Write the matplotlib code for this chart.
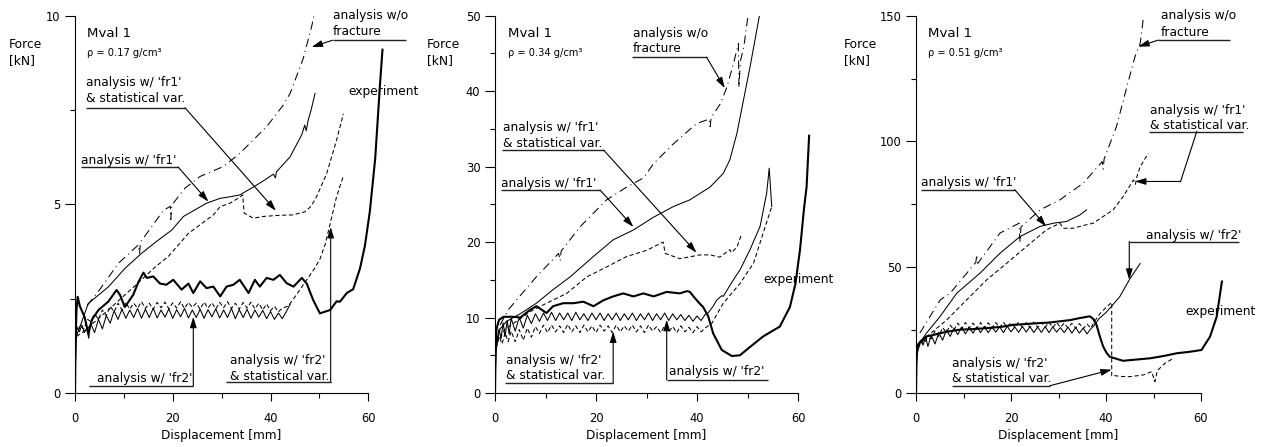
import matplotlib
matplotlib.use("Agg")
import matplotlib.pyplot as plt

plt.rcParams['font.family'] = ['DejaVu Sans']

# shared sampling grid for the noisy 'fr2' plateaus (mm)
noise_x = [3.2, 4.0, 4.8, 5.6, 6.4, 7.2, 8.0, 8.8, 9.6, 10.4, 11.2, 12.0, 12.8, 13.6,
           14.4, 15.2, 16.0, 16.8, 17.6, 18.4, 19.2, 20.0, 20.8, 21.6, 22.4, 23.2,
           24.0, 24.8, 25.6, 26.4, 27.2, 28.0, 28.8, 29.6, 30.4, 31.2, 32.0, 32.8,
           33.6, 34.4, 35.2, 36.0, 36.8, 37.6, 38.4, 39.2, 40.0, 40.8, 41.6, 42.4]

# ---------------- rho = 0.17 ----------------
p1_wo_x = [2.5, 5.1, 8.9, 13.0, 13.2, 13.4, 18.1, 19.5, 19.6, 19.8, 22.5, 25.6, 30.3,
           33.7, 36.5, 39.2, 42.6, 44.0, 46.7, 48.4, 49.4]
p1_wo_y = [2.32, 2.75, 3.44, 3.93, 3.7, 4.0, 4.84, 4.95, 4.6, 4.98, 5.43, 5.74, 6.0,
           6.35, 6.71, 7.06, 7.63, 7.94, 8.87, 9.71, 10.3]
p1_fr1_x = [0.0, 0.2, 1.0, 2.7, 6.8, 10.2, 13.6, 16.5, 19.8, 22.2, 26.9, 29.7, 31.7,
            33.7, 36.5, 38.5, 40.6, 41.0, 41.2, 44.0, 46.4, 47.0, 47.3, 47.7, 48.3, 49.1]
p1_fr1_y = [0.0, 1.5, 1.75, 2.37, 2.81, 3.3, 3.7, 4.0, 4.32, 4.68, 5.03, 5.16, 5.2,
            5.25, 5.46, 5.62, 5.8, 5.7, 5.86, 6.26, 6.85, 7.1, 6.95, 7.23, 7.5, 7.94]
p1_fr1s_x = [0.3, 1.5, 3.7, 6.8, 10.2, 13.6, 16.5, 19.1, 23.2, 26.0, 28.3, 29.7, 31.7,
             33.7, 34.3, 34.6, 36.5, 38.5, 41.9, 44.5, 47.0, 48.3, 49.4, 51.5, 53.5, 54.9]
p1_fr1s_y = [1.5, 1.6, 1.85, 2.2, 2.6, 3.0, 3.35, 3.62, 4.23, 4.5, 4.72, 4.94, 5.03,
             5.19, 5.25, 4.77, 4.63, 4.68, 4.71, 4.72, 4.8, 4.95, 5.2, 5.82, 6.7, 7.4]
p1_fr2_head_x = [0.0, 0.15, 0.4, 0.9, 1.4, 1.9, 2.4, 2.8]
p1_fr2_head_y = [0.0, 1.3, 1.75, 1.62, 1.8, 1.6, 1.72, 1.45]
p1_fr2_noise = [1.85, 1.6, 1.95, 1.7, 2.05, 1.85, 2.18, 1.95, 2.22, 1.98, 2.2, 2.0, 2.24,
                1.98, 2.22, 2.0, 2.25, 1.99, 2.2, 2.01, 2.23, 1.98, 2.21, 2.02, 2.24, 1.99,
                2.2, 2.0, 2.22, 1.98, 2.21, 2.02, 2.23, 1.99, 2.2, 2.0, 2.24, 1.97, 2.21,
                2.0, 2.22, 1.98, 2.2, 2.01, 2.19, 1.97, 2.16, 1.95, 2.12, 1.97]
p1_fr2_tail_x = [43.2, 44.0]
p1_fr2_tail_y = [2.15, 2.35]
p1_fr2s_head_x = [0.3, 1.0, 1.8, 2.6]
p1_fr2s_head_y = [1.5, 1.8, 1.7, 1.95]
p1_fr2s_noise = [1.9, 2.1, 1.95, 2.2, 2.05, 2.3, 2.15, 2.38, 2.2, 2.4, 2.22, 2.38, 2.25,
                 2.42, 2.24, 2.38, 2.22, 2.4, 2.26, 2.41, 2.23, 2.39, 2.25, 2.42, 2.24, 2.4,
                 2.27, 2.38, 2.22, 2.41, 2.25, 2.39, 2.23, 2.4, 2.26, 2.42, 2.24, 2.38,
                 2.22, 2.4, 2.25, 2.41, 2.23, 2.38, 2.2, 2.36, 2.18, 2.3, 2.15, 2.25]
p1_fr2s_tail_x = [43.6, 45.0, 47.4, 49.0, 50.1, 51.2, 52.2, 53.5, 54.9]
p1_fr2s_tail_y = [2.3, 2.55, 3.0, 3.3, 3.55, 3.95, 4.49, 5.2, 5.75]
p1_exp_x = [0.0, 0.1, 0.3, 0.55, 1.0, 2.0, 2.7, 3.5, 4.8, 6.8, 8.5, 9.2, 10.2, 11.9,
            13.0, 14.0, 14.7, 16.0, 17.4, 18.7, 20.1, 21.8, 23.2, 24.2, 25.6, 26.9, 28.3,
            29.7, 31.0, 32.4, 33.7, 35.5, 36.8, 37.8, 39.2, 40.6, 41.9, 43.3, 44.7, 46.4,
            47.4, 48.7, 50.1, 51.0, 52.2, 53.5, 54.2, 55.6, 56.9, 58.3, 59.3, 60.3, 61.4,
            62.4, 62.9]
p1_exp_y = [0.0, 1.2, 2.2, 2.55, 2.3, 2.0, 1.58, 1.95, 2.2, 2.42, 2.73, 2.6, 2.28, 2.6,
            2.95, 3.19, 3.05, 3.09, 2.9, 2.87, 3.0, 2.74, 2.9, 2.65, 2.96, 2.78, 2.82,
            2.56, 2.82, 2.87, 3.0, 2.65, 3.0, 2.82, 3.05, 3.0, 3.13, 2.91, 2.82, 3.05,
            2.9, 2.47, 2.11, 2.15, 2.2, 2.43, 2.42, 2.65, 2.75, 3.3, 3.9, 4.8, 6.2,
            8.2, 9.1]

# ---------------- rho = 0.34 ----------------
p2_wo_x = [1.0, 2.6, 5.5, 8.2, 12.6, 12.9, 13.1, 16.8, 22.1, 26.1, 29.4, 31.4, 35.3,
           39.9, 42.4, 42.6, 42.8, 44.6, 45.9, 47.2, 48.2, 48.3, 48.6, 49.3, 50.2]
p2_wo_y = [9.0, 11.0, 13.3, 15.4, 18.5, 17.5, 18.8, 22.0, 25.6, 27.3, 28.5, 30.4, 33.0,
           35.7, 36.3, 35.3, 36.5, 38.3, 40.5, 43.6, 46.3, 40.5, 44.0, 46.0, 50.5]
p2_fr1_x = [0.0, 0.2, 1.0, 2.3, 5.0, 8.2, 11.5, 14.9, 19.5, 23.4, 27.4, 31.4, 35.3,
            38.6, 42.6, 45.2, 46.5, 47.9, 50.5, 52.5]
p2_fr1_y = [0.0, 6.0, 8.5, 9.5, 10.5, 11.9, 13.7, 15.4, 18.1, 20.3, 21.6, 23.3, 24.7,
            25.6, 27.3, 29.1, 30.9, 34.4, 43.2, 50.5]
p2_fr1s_x = [0.3, 2.0, 4.3, 7.0, 10.2, 14.2, 18.2, 22.1, 26.1, 30.0, 33.3, 33.7, 36.6,
             40.6, 42.6, 44.5, 46.5, 46.8, 47.9, 48.8]
p2_fr1s_y = [6.5, 8.5, 9.5, 10.8, 11.9, 13.2, 15.4, 16.7, 18.1, 18.9, 20.0, 18.5, 17.8,
             18.3, 18.3, 18.0, 19.0, 18.6, 19.3, 21.0]
p2_fr2_head_x = [0.0, 0.15, 0.4, 0.8, 1.2, 1.6, 2.0, 2.4, 2.8]
p2_fr2_head_y = [0.0, 5.5, 7.0, 8.5, 7.2, 9.3, 7.5, 9.6, 7.8]
p2_fr2_noise = [9.9, 8.2, 10.0, 8.6, 10.3, 9.2, 10.5, 9.5, 10.6, 9.6, 10.7, 9.6, 10.6,
                9.7, 10.6, 9.6, 10.7, 9.7, 10.5, 9.6, 10.6, 9.7, 10.6, 9.6, 10.5, 9.7,
                10.6, 9.6, 10.5, 9.7, 10.6, 9.6, 10.5, 9.7, 10.6, 9.6, 10.5, 9.7, 10.6,
                9.6, 10.5, 9.7, 10.4, 9.6, 10.3, 9.5, 10.2, 9.6, 10.4]
p2_fr2_tail_x = [42.2, 43.2, 43.9, 44.9, 45.2, 47.2, 48.5, 50.5, 52.5, 53.8, 54.3, 54.8]
p2_fr2_tail_y = [10.6, 11.5, 12.3, 12.9, 12.8, 15.0, 16.3, 19.0, 22.1, 26.5, 29.8, 24.7]
p2_fr2s_head_x = [0.3, 0.8, 1.4, 2.0, 2.6]
p2_fr2s_head_y = [6.0, 7.5, 6.5, 8.0, 6.8]
p2_fr2s_noise = [8.2, 6.8, 8.4, 7.0, 8.6, 7.4, 8.8, 7.9, 9.0, 8.0, 9.0, 8.1, 8.9, 8.0,
                 9.1, 8.1, 8.9, 8.0, 9.0, 8.1, 8.9, 8.0, 9.0, 8.2, 8.9, 8.0, 9.0, 8.1,
                 8.9, 8.2, 9.0, 8.1, 8.9, 8.0, 9.0, 8.2, 8.8, 8.0, 8.9, 8.1, 8.8, 8.0,
                 8.9, 8.1, 8.7, 8.0, 8.8, 8.1, 8.6]
p2_fr2s_tail_x = [42.9, 45.2, 48.5, 51.2, 53.1, 54.8]
p2_fr2s_tail_y = [9.2, 11.9, 14.5, 17.2, 21.2, 24.7]
p2_exp_x = [0.0, 0.1, 0.3, 0.8, 1.7, 3.6, 5.0, 6.9, 8.2, 10.2, 11.5, 13.5, 15.5, 17.5,
            19.5, 21.5, 23.4, 25.4, 27.4, 29.4, 31.4, 34.0, 36.6, 38.0, 38.6, 39.3, 40.6,
            41.2, 42.2, 43.2, 44.9, 46.9, 48.5, 50.5, 53.1, 56.4, 58.4, 59.5, 60.4, 61.2,
            61.7, 62.2]
p2_exp_y = [0.0, 5.0, 8.5, 9.7, 10.1, 10.1, 10.0, 11.0, 11.5, 10.6, 11.5, 11.9, 11.9,
            12.1, 11.5, 12.3, 12.8, 13.2, 12.8, 13.2, 12.8, 13.4, 13.2, 13.5, 13.4, 12.8,
            11.8, 11.4, 10.2, 7.9, 5.7, 4.9, 5.0, 6.1, 7.5, 8.8, 11.4, 14.5, 19.0, 24.5,
            27.3, 34.1]

# ---------------- rho = 0.51 ----------------
p3_wo_x = [0.8, 5.1, 7.2, 12.6, 12.8, 13.0, 17.7, 21.7, 21.9, 22.1, 26.1, 30.3, 35.2,
           39.2, 39.4, 39.6, 42.2, 44.4, 46.1, 47.2, 47.9]
p3_wo_y = [23.8, 37.0, 39.7, 52.0, 55.0, 51.5, 63.6, 67.5, 60.0, 66.0, 72.8, 76.8, 83.4,
           92.0, 89.0, 93.0, 105.9, 121.8, 133.7, 139.0, 149.6]
p3_fr1_x = [0.0, 0.1, 1.0, 2.2, 5.1, 8.6, 13.5, 17.7, 21.9, 26.1, 28.9, 31.7, 34.5, 35.9]
p3_fr1_y = [0.0, 15.0, 20.5, 23.8, 30.5, 39.7, 47.7, 55.6, 62.2, 66.2, 67.5, 68.2, 70.8,
            72.8]
p3_fr1s_x = [0.3, 2.0, 6.5, 10.7, 14.9, 19.1, 23.3, 27.5, 30.3, 31.0, 33.1, 35.0, 37.3,
             41.5, 43.6, 45.8, 46.2, 46.5, 47.2, 48.9]
p3_fr1s_y = [18.0, 22.0, 29.1, 37.1, 45.0, 51.6, 58.3, 64.9, 67.5, 65.5, 65.5, 66.5,
             67.5, 72.8, 78.1, 84.7, 83.0, 86.0, 90.0, 95.3]
p3_fr2_head_x = [0.0, 0.15, 0.5, 1.0, 1.5, 2.0, 2.5]
p3_fr2_head_y = [0.0, 15.0, 19.5, 21.0, 19.0, 22.5, 18.5]
p3_fr2_noise = [23.0, 19.5, 24.0, 21.0, 25.0, 22.5, 25.8, 23.2, 26.2, 23.5, 26.0, 23.8,
                26.3, 24.0, 26.5, 24.0, 26.2, 24.2, 26.4, 24.0, 26.5, 24.3, 26.3, 24.1,
                26.5, 24.2, 26.4, 24.0, 26.2, 24.1, 26.4, 24.0, 26.3, 24.2, 26.0, 24.0,
                26.2, 23.8, 26.0, 23.8, 25.8, 23.5, 25.5]
p3_fr2_tail_x = [37.6, 38.5, 40.0, 40.8, 42.9, 45.1, 47.2]
p3_fr2_tail_y = [27.0, 29.5, 32.0, 33.7, 38.3, 45.6, 51.5]
p3_fr2s_head_x = [0.3, 0.9, 1.6, 2.4]
p3_fr2s_head_y = [18.0, 20.5, 19.5, 22.0]
p3_fr2s_noise = [21.5, 24.5, 22.5, 26.0, 24.0, 27.0, 25.0, 27.8, 25.5, 28.0, 25.8, 27.8,
                 25.6, 28.0, 25.8, 27.9, 25.9, 28.0, 26.0, 28.1, 26.2, 28.0, 26.1, 28.2,
                 26.2, 28.0, 26.0, 28.2, 26.1, 28.0, 26.2, 28.1, 26.0, 28.0, 26.1, 27.8,
                 25.9, 27.7, 25.8, 27.6, 25.6, 27.4, 25.8]
p3_fr2s_tail_x = [37.6, 38.7, 40.0, 41.2, 41.2, 41.5, 43.0, 45.1, 47.9, 49.6, 50.3, 50.8,
                  52.4, 54.2]
p3_fr2s_tail_y = [28.5, 31.5, 34.0, 36.0, 6.8, 7.0, 6.6, 6.5, 7.2, 8.5, 4.5, 8.9, 11.8,
                  13.8]
p3_exp_x = [0.0, 0.1, 0.3, 1.0, 2.2, 3.5, 5.1, 7.0, 9.3, 12.0, 14.9, 18.0, 20.5, 23.0,
            26.1, 28.0, 30.3, 32.5, 34.5, 36.6, 37.3, 38.0, 38.7, 39.4, 40.1, 40.8, 43.6,
            46.4, 49.3, 52.1, 54.9, 57.7, 60.1, 61.9, 63.3, 64.4]
p3_exp_y = [0.0, 12.0, 19.0, 20.5, 22.5, 23.0, 23.8, 24.5, 25.2, 25.4, 25.8, 26.3, 27.1,
            27.4, 27.8, 28.0, 28.5, 29.0, 29.8, 30.5, 29.5, 27.1, 22.5, 18.5, 16.0, 14.4,
            12.8, 13.3, 13.8, 14.7, 15.8, 16.4, 17.1, 22.4, 30.3, 44.3]

densities = ['0.17', '0.34', '0.51']
y_max = [10, 50, 150]
y_major = [[0, 5, 10], [0, 10, 20, 30, 40, 50], [0, 50, 100, 150]]
y_minor = [[2.5, 7.5], [5, 15, 25, 35, 45], [25, 75, 125]]

THIN = 0.75
THICK = 1.5
DASH = (0, (4, 2.5))
DASHDOT = (0, (8, 4, 1, 4))
FS = 8.8


def noisy(head_x, head_y, noise, tail_x, tail_y):
    xs = head_x + noise_x[:len(noise)] + tail_x
    ys = head_y + noise + tail_y
    return xs, ys


def label(ax, lines, x, ys, ul, path):
    for line, y in zip(lines, ys):
        ax.text(x, y, line, ha='left', va='center', fontsize=FS)
    ax.plot([ul[0], ul[1]], [ul[2], ul[2]], color='#222222', lw=1.0,
            clip_on=False, solid_capstyle='butt')
    px = [p[0] for p in path]
    py = [p[1] for p in path]
    if len(path) > 2:
        ax.plot(px[:-1], py[:-1], color='k', lw=0.8, clip_on=False)
    ax.annotate('', xy=path[-1], xytext=path[-2], annotation_clip=False,
                arrowprops=dict(arrowstyle='-|>,head_length=0.65,head_width=0.2',
                                color='k', lw=0.8, shrinkA=0, shrinkB=0))


fig = plt.figure(figsize=(12.69, 4.47), dpi=100)
bottom = 54 / 447
height = 377.3 / 447
axes = [
    fig.add_axes([75 / 1269, bottom, 342.2 / 1269, height]),
    fig.add_axes([495 / 1269, bottom, 353.5 / 1269, height]),
    fig.add_axes([916 / 1269, bottom, 351.5 / 1269, height]),
]
xlims = [70, 70, 74]
force_x = [9, 427, 844]

for i, ax in enumerate(axes):
    ax.set_xlim(0, xlims[i])
    ax.set_ylim(0, y_max[i])
    for s in ['top', 'right']:
        ax.spines[s].set_visible(False)
    ax.spines['left'].set_bounds(0, y_max[i])
    ax.spines['bottom'].set_bounds(0, 60)
    ax.spines['left'].set_linewidth(0.8)
    ax.spines['bottom'].set_linewidth(0.8)
    ax.set_xticks([0, 20, 40, 60])
    ax.set_xticks([10, 30, 50], minor=True)
    ax.set_yticks(y_major[i])
    ax.set_yticks(y_minor[i], minor=True)
    ax.tick_params(axis='y', which='major', length=7, width=0.8, pad=3.5, labelsize=8.3)
    ax.tick_params(axis='y', which='minor', length=3.5, width=0.8)
    ax.tick_params(axis='x', which='major', length=6, width=0.8, pad=7.5, labelsize=8.3)
    ax.tick_params(axis='x', which='minor', length=3.5, width=0.8)
    ax.text(30, -0.112, 'Displacement [mm]', transform=ax.get_xaxis_transform(),
            ha='center', va='center', fontsize=8.7)
    fig.text(force_x[i] / 1269, 1 - 44 / 447, 'Force', ha='left', va='center', fontsize=8.8)
    fig.text(force_x[i] / 1269, 1 - 61 / 447, '[kN]', ha='left', va='center', fontsize=8.8)
    ymx = y_max[i]
    ax.text(2.5, ymx * 0.952, 'Mval 1', ha='left', va='center', fontsize=9.6)
    ax.text(2.5, ymx * 0.90, '\u03c1 = ' + densities[i] + ' g/cm\u00b3', ha='left',
            va='center', fontsize=7.1)

# panel 1
ax = axes[0]
ax.plot(p1_wo_x, p1_wo_y, color='k', lw=THIN, ls=DASHDOT)
ax.plot(p1_fr1_x, p1_fr1_y, color='k', lw=THIN)
ax.plot(p1_fr1s_x, p1_fr1s_y, color='k', lw=THIN, ls=DASH)
ax.plot(*noisy(p1_fr2_head_x, p1_fr2_head_y, p1_fr2_noise, p1_fr2_tail_x, p1_fr2_tail_y),
        color='k', lw=THIN)
ax.plot(*noisy(p1_fr2s_head_x, p1_fr2s_head_y, p1_fr2s_noise, p1_fr2s_tail_x, p1_fr2s_tail_y),
        color='k', lw=THIN, ls=DASH)
ax.plot(p1_exp_x, p1_exp_y, color='k', lw=THICK)
label(ax, ['analysis w/o', 'fracture'], 52.8, [10.0, 9.57], (52.7, 67.7, 9.35),
      [(52.7, 9.35), (48.4, 9.17)])
label(ax, ["analysis w/ 'fr1'", '& statistical var.'], 2.25, [8.24, 7.8], (2.25, 22.5, 7.56),
      [(22.5, 7.56), (41.1, 4.83)])
label(ax, ["analysis w/ 'fr1'"], 1.2, [6.17], (1.2, 21.1, 5.99), [(21.1, 5.99), (27.3, 5.07)])
label(ax, ["analysis w/ 'fr2'"], 4.6, [0.39], (2.9, 24.2, 0.185), [(24.2, 0.185), (24.2, 2.02)])
label(ax, ["analysis w/ 'fr2'", '& statistical var.'], 31.8, [0.86, 0.43], (30.9, 52.3, 0.28),
      [(52.3, 0.28), (52.3, 4.4)])
ax.text(55.9, 8.0, 'experiment', ha='left', va='center', fontsize=FS)

# panel 2
ax = axes[1]
ax.plot(p2_wo_x, p2_wo_y, color='k', lw=THIN, ls=DASHDOT)
ax.plot(p2_fr1_x, p2_fr1_y, color='k', lw=THIN)
ax.plot(p2_fr1s_x, p2_fr1s_y, color='k', lw=THIN, ls=DASH)
ax.plot(*noisy(p2_fr2_head_x, p2_fr2_head_y, p2_fr2_noise, p2_fr2_tail_x, p2_fr2_tail_y),
        color='k', lw=THIN)
ax.plot(*noisy(p2_fr2s_head_x, p2_fr2s_head_y, p2_fr2s_noise, p2_fr2s_tail_x, p2_fr2s_tail_y),
        color='k', lw=THIN, ls=DASH)
ax.plot(p2_exp_x, p2_exp_y, color='k', lw=THICK)
label(ax, ['analysis w/o', 'fracture'], 27.3, [47.6, 45.6], (27.1, 41.9, 44.5),
      [(41.9, 44.5), (45.5, 40.4)])
label(ax, ["analysis w/ 'fr1'", '& statistical var.'], 1.5, [35.2, 33.1], (1.3, 21.5, 32.2),
      [(21.5, 32.2), (39.9, 18.6)])
label(ax, ["analysis w/ 'fr1'"], 1.1, [27.8], (1.1, 20.8, 26.9), [(20.8, 26.9), (27.4, 22.0)])
label(ax, ["analysis w/ 'fr2'", '& statistical var.'], 2.2, [4.3, 2.3], (2.0, 23.4, 1.3),
      [(23.4, 1.3), (23.4, 8.15)])
label(ax, ["analysis w/ 'fr2'"], 34.5, [2.86], (34.0, 54.1, 1.76), [(34.0, 1.76), (34.0, 9.7)])
ax.text(53.1, 15.0, 'experiment', ha='left', va='center', fontsize=FS)

# panel 3
ax = axes[2]
ax.plot(p3_wo_x, p3_wo_y, color='k', lw=THIN, ls=DASHDOT)
ax.plot(p3_fr1_x, p3_fr1_y, color='k', lw=THIN)
ax.plot(p3_fr1s_x, p3_fr1s_y, color='k', lw=THIN, ls=DASH)
ax.plot(*noisy(p3_fr2_head_x, p3_fr2_head_y, p3_fr2_noise, p3_fr2_tail_x, p3_fr2_tail_y),
        color='k', lw=THIN)
ax.plot(*noisy(p3_fr2s_head_x, p3_fr2s_head_y, p3_fr2s_noise, p3_fr2s_tail_x, p3_fr2s_tail_y),
        color='k', lw=THIN, ls=DASH)
ax.plot(p3_exp_x, p3_exp_y, color='k', lw=THICK)
label(ax, ['analysis w/o', 'fracture'], 51.5, [150, 143.4], (51.0, 66.2, 140.3),
      [(51.0, 140.3), (46.8, 137.7)])
label(ax, ["analysis w/ 'fr1'", '& statistical var.'], 49.3, [112.5, 106.2], (49.1, 68.9, 103.9),
      [(59.1, 103.9), (55.7, 84.1), (46.1, 84.1)])
label(ax, ["analysis w/ 'fr1'"], 1.0, [83.7], (1.0, 20.8, 80.8), [(20.8, 80.8), (27.4, 66.2)])
label(ax, ["analysis w/ 'fr2'"], 48.4, [62.5], (44.9, 68.1, 60.2), [(44.9, 60.2), (44.9, 45.0)])
label(ax, ["analysis w/ 'fr2'", '& statistical var.'], 7.5, [11.9, 5.6], (7.5, 28.2, 2.9),
      [(28.2, 2.9), (41.2, 9.3)])
ax.text(56.8, 32.4, 'experiment', ha='left', va='center', fontsize=FS)

fig.savefig('out.png', dpi=100)
